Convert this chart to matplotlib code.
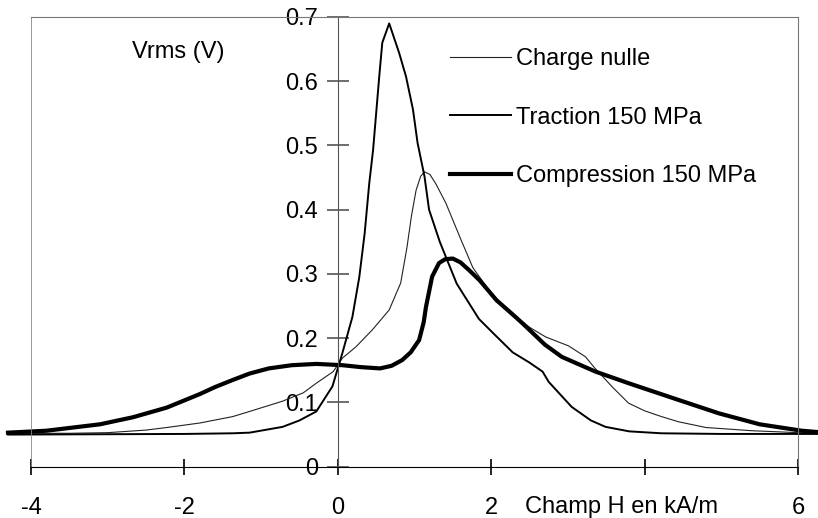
import matplotlib.pyplot as plt

plt.rcParams['font.family'] = ['Liberation Sans', 'DejaVu Sans']

# Données (H en kA/m, Vrms en V)
x_nulle = [-4.3, -3.5, -3.0, -2.5, -2.23, -1.8, -1.37, -1.15, -0.72, -0.45, -0.28, -0.06,
           0.06, 0.24, 0.45, 0.67, 0.82, 0.9, 0.96, 1.02, 1.08, 1.13, 1.2, 1.28, 1.41, 1.6, 1.76, 2.0,
           2.25, 2.5, 2.71, 3.01, 3.23, 3.34, 3.58, 3.79, 4.0, 4.22, 4.44, 4.8, 5.4, 6.0, 6.25]
y_nulle = [0.052, 0.052, 0.053, 0.057, 0.061, 0.068, 0.078, 0.086, 0.102, 0.115, 0.13, 0.148,
           0.169, 0.187, 0.213, 0.244, 0.286, 0.34, 0.39, 0.43, 0.452, 0.459, 0.455, 0.44, 0.41, 0.355, 0.31, 0.27,
           0.24, 0.217, 0.202, 0.188, 0.171, 0.155, 0.124, 0.099, 0.087, 0.078, 0.07, 0.061, 0.056, 0.053, 0.052]

x_traction = [-4.3, -2.0, -1.37, -1.15, -0.72, -0.5, -0.28, -0.07, 0.02, 0.06, 0.19, 0.28,
              0.35, 0.41, 0.46, 0.54, 0.58, 0.67, 0.8, 0.89, 0.98, 1.04, 1.13, 1.19, 1.33,
              1.55, 1.84, 2.05, 2.28, 2.5, 2.67, 2.75, 3.05, 3.3, 3.49, 3.8, 4.22, 5.0, 6.25]
y_traction = [0.050, 0.051, 0.052, 0.053, 0.062, 0.072, 0.086, 0.125, 0.161, 0.177, 0.233, 0.295,
              0.363, 0.441, 0.493, 0.607, 0.66, 0.69, 0.644, 0.607, 0.556, 0.504, 0.452, 0.40, 0.35,
              0.285, 0.23, 0.205, 0.178, 0.162, 0.148, 0.132, 0.093, 0.072, 0.062, 0.055, 0.052, 0.051, 0.051]

x_compr = [-4.3, -3.8, -3.1, -2.67, -2.23, -1.8, -1.6, -1.37, -1.15, -0.9, -0.6, -0.28, 0.06, 0.3,
           0.55, 0.7, 0.84, 0.95, 1.06, 1.12, 1.15, 1.23, 1.32, 1.4, 1.5, 1.6, 1.72, 1.85, 2.07,
           2.28, 2.41, 2.7, 2.92, 3.36, 3.79, 4.44, 4.97, 5.5, 6.05, 6.25]
y_compr = [0.053, 0.056, 0.066, 0.077, 0.092, 0.113, 0.124, 0.135, 0.145, 0.153, 0.158, 0.16, 0.158, 0.155,
           0.153, 0.157, 0.166, 0.178, 0.197, 0.225, 0.249, 0.296, 0.317, 0.323, 0.324, 0.318, 0.305, 0.29, 0.259,
           0.237, 0.223, 0.19, 0.171, 0.148, 0.13, 0.104, 0.083, 0.066, 0.056, 0.054]

x_ticks = [-4, -2, 0, 2, 4, 6]
x_ticklabels = ['-4', '-2', '0', '2', '', '6']
y_ticks = [0, 0.1, 0.2, 0.3, 0.4, 0.5, 0.6, 0.7]
y_ticklabels = ['0', '0.1', '0.2', '0.3', '0.4', '0.5', '0.6', '0.7']

fig = plt.figure(figsize=(8.18, 5.18), dpi=100)
ax = fig.add_axes([31 / 818, 51.3 / 518, (798 - 31) / 818, (466.7 - 17) / 518])

ax.plot(x_nulle, y_nulle, color='#222222', lw=0.8, clip_on=False, label='Charge nulle')
ax.plot(x_traction, y_traction, color='black', lw=1.4, clip_on=False, label='Traction 150 MPa')
ax.plot(x_compr, y_compr, color='black', lw=3.0, clip_on=False, label='Compression 150 MPa')

ax.set_xlim(-4, 6)
ax.set_ylim(0, 0.7)

# Axe vertical au milieu, cadre gris autour
ax.spines['left'].set_position(('data', 0))
ax.spines['left'].set_color('#555555')
for s in ['top', 'right']:
    ax.spines[s].set_color('#777777')
ax.spines['bottom'].set_color('black')
ax.axvline(-4, color='#888888', lw=1.2)

ax.set_xticks(x_ticks)
ax.set_xticklabels(x_ticklabels)
ax.set_yticks(y_ticks)
ax.set_yticklabels(y_ticklabels)
ax.tick_params(axis='x', direction='inout', length=12, width=1.2, pad=16, labelsize=17)
ax.tick_params(axis='y', direction='inout', length=16, width=1.2, pad=6, labelsize=17,
               color='#555555')

ax.text(3.7, -0.062, 'Champ H en kA/m', ha='center', va='center', fontsize=17, clip_on=False)
ax.text(-2.08, 0.646, 'Vrms (V)', ha='center', va='center', fontsize=17)

ax.legend(loc='upper left', bbox_to_anchor=(450 / 818, 1 - 48 / 518), bbox_transform=fig.transFigure,
          frameon=False, fontsize=17, handlelength=2.6, handletextpad=0.2, labelspacing=1.55,
          borderpad=0, borderaxespad=0)

fig.savefig('out.png', dpi=100)
